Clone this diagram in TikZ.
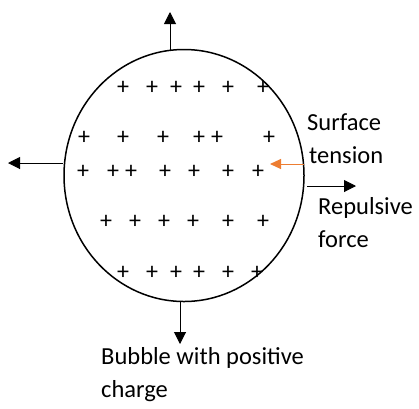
\documentclass[tikz,border=0pt]{standalone}
\usepackage{fontspec}
\setmainfont{Carlito}
\usetikzlibrary{arrows.meta,shapes.geometric}
\definecolor{offorange}{RGB}{237,125,49}
\begin{document}
\begin{tikzpicture}[x=1pt,y=-1pt,
  pl/.style={inner sep=0pt,font=\fontsize{24}{24}\selectfont},
  lbl/.style={inner sep=0pt,anchor=base west,align=left,font=\fontsize{24.5}{32.5}\selectfont},
  force/.style={line width=1pt,-{Triangle[length=12pt,width=12pt]}},
  tens/.style={line width=1pt,draw=offorange,-{Triangle[length=11pt,width=10pt]},color=offorange}]
\useasboundingbox (0,0) rectangle (419,408);
\node[draw,ellipse,line width=1.5pt,minimum width=240pt,minimum height=252pt,inner sep=0pt] (bubble) at (184,175.5) {};
% plus signs
\foreach \x [count=\i] in {123,152,176,199,228,263}
  \node[pl] (pa\i) at (\x,88) {+};
\foreach \x [count=\i] in {84,123,163,199,217,269}
  \node[pl] (pb\i) at (\x,138) {+};
\foreach \x [count=\i] in {83,113,131,165,194,228,258}
  \node[pl] (pc\i) at (\x,172) {+};
\foreach \x [count=\i] in {106,135,164,193,228,263}
  \node[pl] (pd\i) at (\x,222) {+};
\foreach \x [count=\i] in {123,152,176,199,228,257}
  \node[pl] (pe\i) at (\x,273) {+};
% arrow ends
\coordinate (topS) at (170,49.5);
\coordinate (topT) at (170,12);
\coordinate (leftS) at (63,163);
\coordinate (leftT) at (8,163);
\coordinate (rightS) at (307,186);
\coordinate (rightT) at (356,186);
\coordinate (botS) at (180,301.5);
\coordinate (botT) at (180,344);
\coordinate (tenS) at (304,164);
\coordinate (tenT) at (270,164);
\draw[force] (topS) -- (topT);
\draw[force] (leftS) -- (leftT);
\draw[force] (rightS) -- (rightT);
\draw[force] (botS) -- (botT);
\draw[tens] (tenS) -- (tenT);
% labels (anchor at baseline of last line)
\node[lbl] (surf) at (307,163) {Surface\\\hspace*{2pt}tension};
\node[lbl] (rep) at (318,247) {Repulsive\\force};
\node[lbl] (bub) at (101,397) {Bubble with positive\\charge};
\end{tikzpicture}
\end{document}
